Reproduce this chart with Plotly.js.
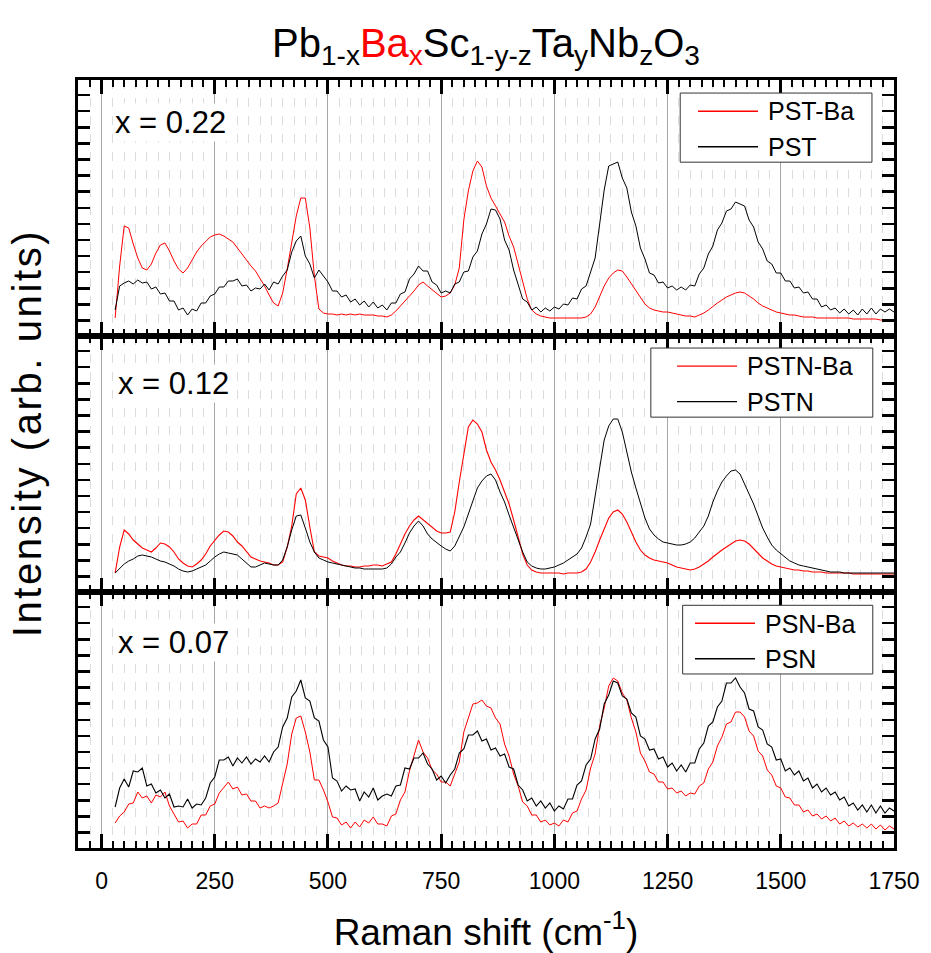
<!DOCTYPE html>
<html>
<head>
<meta charset="utf-8">
<script src="https://cdn.plot.ly/plotly-3.0.1.min.js"></script>
<style>html,body{margin:0;padding:0;background:#fff;}</style>
</head>
<body>
<div id="chart" style="width:931px;height:953px;"></div>
<script>
// Raman shift (cm^-1)
const shift = [
30,40,50,60,70,80,90,100,110,120,
130,140,150,160,170,180,190,200,210,220,
230,240,250,260,270,280,290,300,310,320,
330,340,350,360,370,380,390,400,410,420,
430,440,450,460,470,480,490,500,510,520,
530,540,550,560,570,580,590,600,610,620,
630,640,650,660,670,680,690,700,710,720,
730,740,750,760,770,780,790,800,810,820,
830,840,850,860,870,880,890,900,910,920,
930,940,950,960,970,980,990,1000,1010,1020,
1030,1040,1050,1060,1070,1080,1090,1100,1110,1120,
1130,1140,1150,1160,1170,1180,1190,1200,1210,1220,
1230,1240,1250,1260,1270,1280,1290,1300,1310,1320,
1330,1340,1350,1360,1370,1380,1390,1400,1410,1420,
1430,1440,1450,1460,1470,1480,1490,1500,1510,1520,
1530,1540,1550,1560,1570,1580,1590,1600,1610,1620,
1630,1640,1650,1660,1670,1680,1690,1700,1710,1720,
1730,1740,1750];

// x = 0.22 panel
const pstBa = [
18,70,110,108,92,78,68,66,72,83,
91,93,85,75,67,63,68,76,84,90,
95,99,101,102,100,97,94,88,82,75,
70,65,58,50,41,33,30,43,67,95,
120,138,138,108,60,27,23,22,22,21,
22,21,22,21,22,21,21,21,20,20,
19,21,25,30,34,39,45,51,54,50,
46,42,39,40,43,51,68,116,145,165,
175,169,150,138,130,123,114,100,89,72,
55,37,26,22,20,19,18,18,18,18,
18,18,18,18,19,22,29,39,50,58,
63,66,65,59,52,45,38,32,28,26,
25,24,24,23,22,21,20,20,19,21,
23,26,30,33,36,39,41,43,44,43,
40,37,33,30,28,26,24,23,22,21,
21,20,19,19,19,18,18,18,18,18,
18,18,18,17,17,17,17,17,17,16,
16,16,16];
const pst = [
26,50,53,55,52,56,53,54,47,49,
42,43,35,35,26,28,21,27,25,33,
33,40,42,49,49,55,55,57,50,51,
45,48,47,52,46,54,52,60,66,84,
95,100,80,72,58,66,60,54,45,45,
39,41,34,37,31,35,29,34,28,31,
26,33,33,42,44,57,62,70,65,65,
54,51,43,45,43,52,54,64,65,79,
85,102,112,127,126,117,96,86,66,52,
37,34,26,29,24,28,25,29,27,32,
31,38,37,47,50,64,78,112,146,170,
172,174,158,148,124,110,88,77,63,61,
53,54,48,50,46,49,46,51,50,62,
68,82,90,106,113,125,127,134,132,130,
116,109,94,87,75,72,63,63,55,55,
48,49,43,44,37,37,29,31,26,28,
23,27,22,26,21,27,22,28,22,27,
24,27,24];

// x = 0.12 panel
const pstnBa = [
19,45,62,58,52,48,44,42,40,44,
49,48,45,40,33,29,26,25,28,32,
38,46,52,57,61,60,56,50,46,40,
35,33,31,30,29,27,27,30,45,66,
98,104,92,65,40,36,35,34,31,29,
27,26,26,25,25,26,26,27,27,26,
28,30,38,48,58,66,72,76,72,68,
65,61,59,59,60,80,110,140,165,172,
168,160,142,130,122,112,100,88,72,55,
38,27,22,20,19,19,19,19,19,18,
19,19,19,20,23,30,40,52,64,74,
80,82,78,70,60,50,42,37,34,32,
31,30,29,27,25,24,23,22,23,25,
28,31,35,39,42,45,48,51,52,51,
48,43,38,34,31,28,26,25,24,23,
22,22,21,21,20,20,20,19,19,19,
19,19,19,18,18,18,18,18,18,18,
18,18,18];
const pstn = [
19,24,28,31,33,36,37,36,35,33,
31,30,28,26,23,21,20,21,23,25,
27,31,35,38,40,39,38,37,33,29,
25,25,27,29,28,27,27,32,45,62,
76,77,64,50,40,34,32,30,29,28,
27,26,25,24,24,23,23,23,23,23,
24,28,35,40,49,59,66,71,66,58,
53,49,46,43,41,46,55,65,78,92,
104,111,116,118,112,100,90,77,64,52,
40,30,26,24,23,23,24,25,27,29,
32,35,38,44,55,68,95,125,152,166,
173,173,160,140,120,104,88,74,63,57,
53,50,49,48,47,47,48,50,54,60,
66,76,90,101,110,116,121,122,118,108,
98,88,76,64,55,47,42,38,35,31,
29,27,26,25,24,23,22,21,20,20,
20,19,19,19,19,19,19,19,19,19,
19,19,19];

// x = 0.07 panel
const psnBa = [
25,32,36,44,45,56,50,52,45,53,
51,56,42,34,26,27,20,24,24,33,
33,42,44,55,60,66,59,61,53,54,
47,47,40,42,40,42,45,64,84,114,
130,132,116,96,68,68,58,46,31,30,
23,26,20,26,21,28,25,31,24,24,
22,32,34,48,56,77,92,108,96,90,
78,74,66,66,62,74,86,116,131,144,
145,148,142,140,130,124,104,92,74,62,
46,42,33,33,26,28,23,25,22,28,
26,35,37,49,58,80,94,122,140,162,
170,167,155,148,130,116,95,87,76,74,
66,66,59,60,55,57,52,55,54,62,
65,79,86,102,111,124,126,136,136,131,
117,112,97,92,78,73,62,60,51,50,
43,43,36,38,32,34,29,32,27,30,
24,27,22,25,21,24,20,24,19,23,
18,22,19];
const psn = [
41,60,69,61,77,76,80,62,64,55,
58,50,54,41,42,41,49,40,44,43,
50,65,71,88,88,91,82,90,85,91,
84,89,86,92,86,96,101,121,130,151,
157,168,150,147,130,127,108,101,70,67,
57,62,58,59,47,56,51,60,48,52,
54,52,62,63,80,79,90,90,95,84,
79,68,72,65,73,79,95,99,113,113,
117,107,109,98,100,92,94,81,79,63,
58,47,50,42,47,40,45,37,42,39,
49,49,63,67,83,89,109,119,144,153,
167,165,152,149,135,131,112,109,98,99,
89,91,81,85,77,83,76,85,85,99,
105,122,126,141,147,165,165,170,161,155,
139,137,121,118,104,101,88,89,77,80,
73,77,67,70,60,64,56,60,53,56,
48,51,42,45,38,43,36,43,35,42,
35,40,37];

const seriesNames = ["PST-Ba","PST","PSTN-Ba","PSTN","PSN-Ba","PSN"];
const panelLabels = ["x = 0.22","x = 0.12","x = 0.07"];
const xTickVals = [0,250,500,750,1000,1250,1500,1750];

const RED = "#ff0000", BLACK = "#000000";
const FONT = "Liberation Sans, Arial, sans-serif";

function tr(y, name, color, w, ax, leg) {
  return {x: shift, y: y, name: name, type: "scatter", mode: "lines",
    line: {color: color, width: w}, xaxis: ax[0], yaxis: ax[1], legend: leg};
}
const data = [
  tr(pstBa, seriesNames[0], RED, 1, ["x","y"], "legend"),
  tr(pst, seriesNames[1], BLACK, 1, ["x","y"], "legend"),
  tr(pstnBa, seriesNames[2], RED, 1.1, ["x2","y2"], "legend2"),
  tr(pstn, seriesNames[3], BLACK, 1, ["x2","y2"], "legend2"),
  tr(psnBa, seriesNames[4], RED, 1, ["x3","y3"], "legend3"),
  tr(psn, seriesNames[5], BLACK, 1.1, ["x3","y3"], "legend3")
];

function xax(anchor, labels) {
  return {
    anchor: anchor, range: [-52, 1750], tickmode: "array", tickvals: xTickVals,
    ticktext: xTickVals.map(String),
    showticklabels: labels, ticks: "inside", ticklen: 14, tickwidth: 3, tickcolor: "#000",
    ticklabelstandoff: 10,
    showline: true, linewidth: 3, linecolor: "#000", mirror: "ticks",
    showgrid: true, gridcolor: "#a6a6a6", gridwidth: 1, zeroline: false,
    tickfont: {family: FONT, size: 23, color: "#000"},
    minor: {dtick: 25, tick0: 0, ticks: "inside", ticklen: 7, tickwidth: 2, tickcolor: "#000",
      showgrid: true, gridcolor: "#dcdcdc", griddash: "dash", gridwidth: 1}
  };
}
function yax(anchor, dom) {
  return {
    anchor: anchor, domain: dom, range: [0, 256], tick0: 15.5, dtick: 16.1,
    showticklabels: false, ticks: "inside", ticklen: 12, tickwidth: 2.5, tickcolor: "#000",
    showline: true, linewidth: 3, linecolor: "#000", mirror: "ticks",
    showgrid: false, zeroline: false
  };
}
function leg(xl, ytop) {
  return {x: xl, xanchor: "left", y: ytop, yanchor: "top",
    bgcolor: "rgba(0,0,0,0)", borderwidth: 0, itemwidth: 72,
    font: {family: FONT, size: 25, color: "#000"}, tracegroupgap: 0};
}
function box(x0, x1, y0, y1) {
  return {type: "rect", xref: "paper", yref: "paper", x0: x0, x1: x1, y0: y0, y1: y1,
    layer: "above", fillcolor: "#fff", line: {color: "#333", width: 1}};
}

const x3 = xax("y3", true);
x3.title = {text: "Raman shift (cm<sup>-1</sup>)", font: {family: FONT, size: 37, color: "#000"}, standoff: 28};

const layout = {
  width: 931, height: 953,
  margin: {l: 78, r: 37, t: 80, b: 105},
  paper_bgcolor: "#fff", plot_bgcolor: "#fff",
  font: {family: FONT, color: "#000"},
  title: {text: "Pb<sub>1-x</sub><span style='color:#ff0000'>Ba<sub>x</sub></span>Sc<sub>1-y-z</sub>Ta<sub>y</sub>Nb<sub>z</sub>O<sub>3</sub>",
    x: 0.522, xanchor: "center", y: 0.955, yanchor: "middle",
    font: {family: FONT, size: 40, color: "#000"}},
  xaxis: xax("y", false),
  xaxis2: xax("y2", false),
  xaxis3: x3,
  yaxis: yax("x", [2/3, 1]),
  yaxis2: yax("x2", [1/3, 2/3]),
  yaxis3: yax("x3", [0, 1/3]),
  legend: leg(0.7451, 0.9896),
  legend2: leg(0.7194, 0.6576),
  legend3: leg(0.7414, 0.3229),
  showlegend: true,
  shapes: [
    box(0.738, 0.973, 0.893, 0.983),
    box(0.702, 0.974, 0.561, 0.651),
    box(0.741, 0.974, 0.2266, 0.316)
  ],
  annotations: [
    {text: panelLabels[0], xref: "paper", yref: "paper", x: 0.043, y: 0.945, xanchor: "left", yanchor: "middle",
      showarrow: false, bgcolor: "#fff", font: {family: FONT, size: 31, color: "#000"}},
    {text: panelLabels[1], xref: "paper", yref: "paper", x: 0.047, y: 0.605, xanchor: "left", yanchor: "middle",
      showarrow: false, bgcolor: "#fff", font: {family: FONT, size: 31, color: "#000"}},
    {text: panelLabels[2], xref: "paper", yref: "paper", x: 0.047, y: 0.268, xanchor: "left", yanchor: "middle",
      showarrow: false, bgcolor: "#fff", font: {family: FONT, size: 31, color: "#000"}},
    {text: "Intensity (arb. units)", xref: "paper", yref: "paper", x: -0.062, y: 0.54,
      xanchor: "center", yanchor: "middle", textangle: -90, showarrow: false,
      font: {family: FONT, size: 40, color: "#000"}}
  ]
};

Plotly.newPlot("chart", data, layout, {displayModeBar: false, staticPlot: true}).then(function (gd) {
  // longer legend sample lines, as in the original
  gd.querySelectorAll(".legendlines path").forEach(function (p) {
    p.setAttribute("d", "M12,0.5h60");
    p.style.strokeWidth = "1.3px";
  });
  // the original's vertical title is drawn more widely spaced
  gd.querySelectorAll(".annotation-text").forEach(function (t) {
    if (t.textContent.indexOf("Intensity") === 0) { t.style.letterSpacing = "2.6px"; }
  });
});
</script>
</body>
</html>
